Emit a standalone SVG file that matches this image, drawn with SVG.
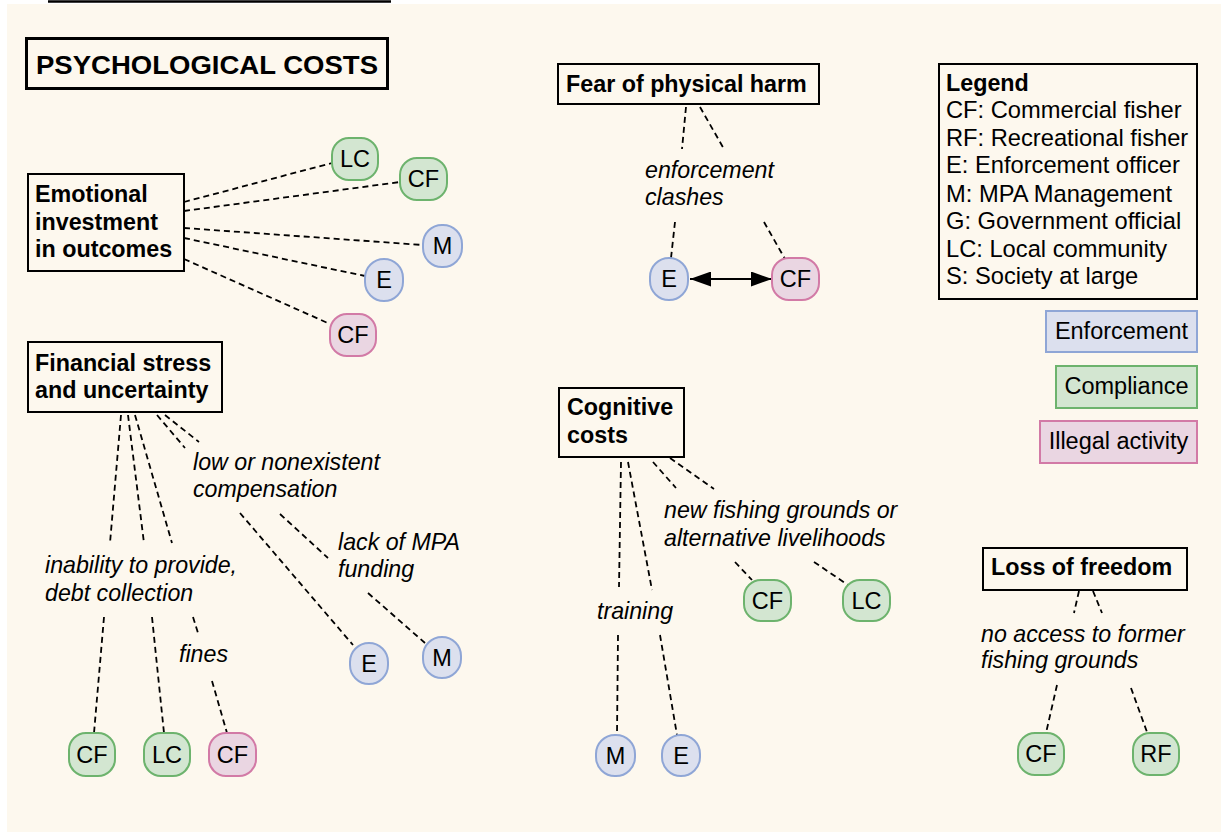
<svg xmlns="http://www.w3.org/2000/svg" width="1221" height="832" viewBox="0 0 1221 832">
<defs>
<style>
.bg{fill:#fdf8ee}
.cat{fill:#fdf8ee;stroke:#000;stroke-width:2}
.bt{font-family:"Liberation Sans",Arial,sans-serif;font-weight:bold;font-size:23.3px;fill:#000}
.it{font-family:"Liberation Sans",Arial,sans-serif;font-style:italic;font-size:23.2px;fill:#000}
.rt{font-family:"Liberation Sans",Arial,sans-serif;font-size:23.7px;fill:#000}
.nt{font-family:"Liberation Sans",Arial,sans-serif;font-size:23.5px;fill:#000;text-anchor:middle}
.blue{fill:#dce0ee;stroke:#8fa6d6;stroke-width:2}
.green{fill:#d3e6d1;stroke:#6db36d;stroke-width:2}
.pink{fill:#ead6e2;stroke:#d27aa6;stroke-width:2}
.d{fill:none;stroke:#000;stroke-width:1.8;stroke-dasharray:6 4}
</style>
<marker id="ah" viewBox="0 0 10 10" refX="10" refY="5" markerWidth="21" markerHeight="15" markerUnits="userSpaceOnUse" orient="auto-start-reverse" preserveAspectRatio="none">
<path d="M0,0 L10,5 L0,10 Z" fill="#000"/>
</marker>
</defs>
<rect x="0" y="0" width="1221" height="832" fill="#fff"/>
<rect class="bg" x="7" y="4" width="1214" height="828"/>
<line x1="48" y1="1.5" x2="391" y2="1.5" stroke="#000" stroke-width="2.5"/>

<g id="title">
<rect x="26.5" y="38.5" width="361" height="50" fill="#fdf8ee" stroke="#000" stroke-width="3"/>
<text x="207" y="74" text-anchor="middle" style="font-family:'Liberation Sans',Arial,sans-serif;font-weight:bold;font-size:26px" textLength="342" lengthAdjust="spacingAndGlyphs">PSYCHOLOGICAL COSTS</text>
</g>

<g id="connectors">
<line class="d" x1="184" y1="202" x2="332" y2="163"/>
<line class="d" x1="184" y1="211" x2="400" y2="182"/>
<line class="d" x1="184" y1="228" x2="423" y2="245"/>
<line class="d" x1="184" y1="238" x2="365" y2="276"/>
<line class="d" x1="184" y1="259" x2="330" y2="324"/>

<line class="d" x1="686" y1="107" x2="682" y2="149"/>
<line class="d" x1="700" y1="107" x2="724" y2="149"/>
<line class="d" x1="675" y1="222" x2="671" y2="258"/>
<line class="d" x1="764" y1="222" x2="785" y2="259"/>
<line x1="690" y1="279" x2="772" y2="279" stroke="#000" stroke-width="2" marker-start="url(#ah)" marker-end="url(#ah)"/>

<line class="d" x1="121" y1="415" x2="110" y2="543"/>
<line class="d" x1="128" y1="415" x2="144" y2="543"/>
<line class="d" x1="135" y1="415" x2="172" y2="543"/>
<line class="d" x1="157" y1="415" x2="185" y2="448"/>
<line class="d" x1="165" y1="415" x2="199" y2="442"/>
<line class="d" x1="240" y1="513" x2="353" y2="645"/>
<line class="d" x1="280" y1="514" x2="328" y2="558"/>
<line class="d" x1="368" y1="593" x2="425" y2="643"/>
<line class="d" x1="104" y1="617" x2="94" y2="733"/>
<line class="d" x1="152" y1="617" x2="164" y2="733"/>
<line class="d" x1="193" y1="617" x2="198" y2="633"/>
<line class="d" x1="212" y1="681" x2="227" y2="733"/>

<line class="d" x1="621" y1="462" x2="619" y2="587"/>
<line class="d" x1="628" y1="462" x2="652" y2="590"/>
<line class="d" x1="653" y1="462" x2="676" y2="488"/>
<line class="d" x1="670" y1="458" x2="714" y2="489"/>
<line class="d" x1="735" y1="562" x2="752" y2="580"/>
<line class="d" x1="814" y1="562" x2="848" y2="585"/>
<line class="d" x1="618" y1="635" x2="617" y2="735"/>
<line class="d" x1="660" y1="635" x2="677" y2="735"/>

<line class="d" x1="1079" y1="591" x2="1074" y2="613"/>
<line class="d" x1="1093" y1="591" x2="1102" y2="613"/>
<line class="d" x1="1057" y1="685" x2="1046" y2="733"/>
<line class="d" x1="1131" y1="688" x2="1147" y2="732"/>
</g>

<g id="emotional">
<rect class="cat" x="28" y="174" width="156" height="97"/>
<text class="bt" x="35" y="202">Emotional</text>
<text class="bt" x="35" y="230">investment</text>
<text class="bt" x="35" y="257">in outcomes</text>
</g>
<g id="em-lc"><rect class="green" x="332" y="138" width="46" height="42" rx="17"/><text class="nt" x="355" y="167">LC</text></g>
<g id="em-cf1"><rect class="green" x="400" y="158" width="47" height="42" rx="17"/><text class="nt" x="423.5" y="187">CF</text></g>
<g id="em-m"><rect class="blue" x="423" y="225" width="39" height="42" rx="19"/><text class="nt" x="442.5" y="254">M</text></g>
<g id="em-e"><rect class="blue" x="365" y="259" width="38" height="42" rx="19"/><text class="nt" x="384" y="288">E</text></g>
<g id="em-cf2"><rect class="pink" x="330" y="314" width="46" height="42" rx="17"/><text class="nt" x="353" y="343">CF</text></g>

<g id="fear">
<rect class="cat" x="558" y="64" width="261" height="40"/>
<text class="bt" x="566" y="92">Fear of physical harm</text>
<text class="it" x="645" y="178">enforcement</text>
<text class="it" x="645" y="205">clashes</text>
</g>
<g id="fe-e"><rect class="blue" x="650" y="258" width="38" height="42" rx="19"/><text class="nt" x="669" y="287">E</text></g>
<g id="fe-cf"><rect class="pink" x="772" y="258" width="47" height="42" rx="17"/><text class="nt" x="795.5" y="287">CF</text></g>

<g id="legend">
<rect class="cat" x="939" y="64" width="258" height="235"/>
<text class="bt" x="946" y="91">Legend</text>
<text class="rt" x="946" y="118">CF: Commercial fisher</text>
<text class="rt" x="946" y="146">RF: Recreational fisher</text>
<text class="rt" x="946" y="173">E: Enforcement officer</text>
<text class="rt" x="946" y="202">M: MPA Management</text>
<text class="rt" x="946" y="229">G: Government official</text>
<text class="rt" x="946" y="257">LC: Local community</text>
<text class="rt" x="946" y="284">S: Society at large</text>
</g>
<g id="key-enf"><rect class="blue" x="1046" y="311" width="151" height="41"/><text class="nt" x="1121.5" y="339">Enforcement</text></g>
<g id="key-comp"><rect class="green" x="1056" y="366" width="141" height="42"/><text class="nt" x="1126.5" y="394">Compliance</text></g>
<g id="key-ill"><rect class="pink" x="1040" y="421" width="157" height="42"/><text class="nt" x="1118.5" y="449">Illegal activity</text></g>

<g id="financial">
<rect class="cat" x="28" y="342" width="194" height="70"/>
<text class="bt" x="35" y="371">Financial stress</text>
<text class="bt" x="35" y="398">and uncertainty</text>
<text class="it" x="193" y="470">low or nonexistent</text>
<text class="it" x="193" y="497">compensation</text>
<text class="it" x="338" y="550">lack of MPA</text>
<text class="it" x="338" y="577">funding</text>
<text class="it" x="45" y="573">inability to provide,</text>
<text class="it" x="45" y="601">debt collection</text>
<text class="it" x="179" y="662">fines</text>
</g>
<g id="fi-e"><rect class="blue" x="350" y="643" width="38" height="41" rx="19"/><text class="nt" x="369" y="672">E</text></g>
<g id="fi-m"><rect class="blue" x="423" y="637" width="38" height="41" rx="19"/><text class="nt" x="442" y="666">M</text></g>
<g id="fi-cf1"><rect class="green" x="69" y="733" width="46" height="43" rx="17"/><text class="nt" x="92" y="763">CF</text></g>
<g id="fi-lc"><rect class="green" x="144" y="733" width="46" height="43" rx="17"/><text class="nt" x="167" y="763">LC</text></g>
<g id="fi-cf2"><rect class="pink" x="209" y="733" width="47" height="43" rx="17"/><text class="nt" x="232.5" y="763">CF</text></g>

<g id="cognitive">
<rect class="cat" x="559" y="388" width="125" height="69"/>
<text class="bt" x="567" y="415">Cognitive</text>
<text class="bt" x="567" y="443">costs</text>
<text class="it" x="664" y="518">new fishing grounds or</text>
<text class="it" x="664" y="546">alternative livelihoods</text>
<text class="it" x="597" y="619">training</text>
</g>
<g id="co-cf"><rect class="green" x="744" y="580" width="47" height="41" rx="17"/><text class="nt" x="767.5" y="609">CF</text></g>
<g id="co-lc"><rect class="green" x="843" y="580" width="47" height="41" rx="17"/><text class="nt" x="866.5" y="609">LC</text></g>
<g id="co-m"><rect class="blue" x="596" y="735" width="39" height="41" rx="19"/><text class="nt" x="615.5" y="764">M</text></g>
<g id="co-e"><rect class="blue" x="662" y="735" width="38" height="41" rx="19"/><text class="nt" x="681" y="764">E</text></g>

<g id="freedom">
<rect class="cat" x="983" y="548" width="204" height="42"/>
<text class="bt" x="991" y="575">Loss of freedom</text>
<text class="it" x="981" y="642">no access to former</text>
<text class="it" x="981" y="668">fishing grounds</text>
</g>
<g id="lf-cf"><rect class="green" x="1018" y="733" width="46" height="42" rx="17"/><text class="nt" x="1041" y="762">CF</text></g>
<g id="lf-rf"><rect class="green" x="1133" y="733" width="46" height="42" rx="17"/><text class="nt" x="1156" y="762">RF</text></g>
</svg>
